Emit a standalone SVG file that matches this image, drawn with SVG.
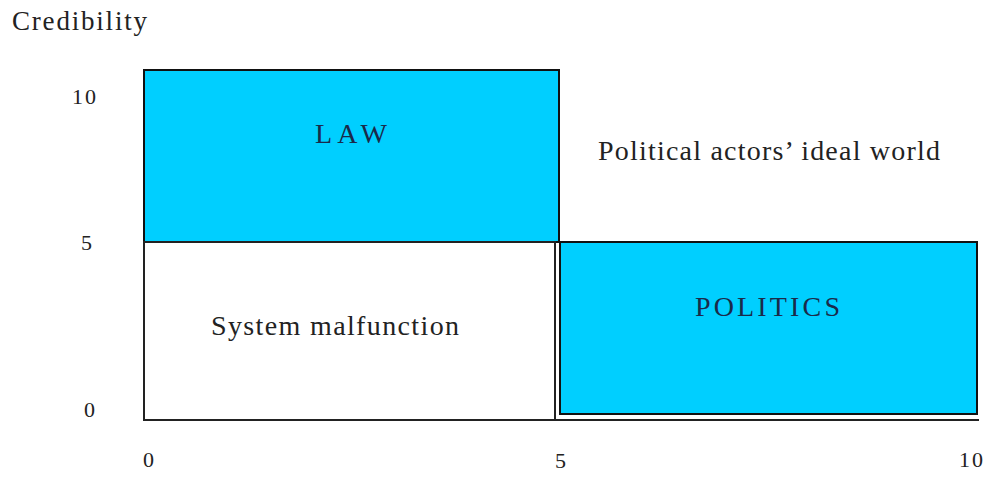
<svg xmlns="http://www.w3.org/2000/svg" width="993" height="483" viewBox="0 0 993 483">
<style>
text{font-family:"Liberation Serif","Times New Roman",serif;fill:#222;}
.lbl{font-size:28px;}
.box{fill:#00CFFF;stroke:#111;stroke-width:2;}
.ax{font-size:22px;}
.ln{stroke:#222;stroke-width:2;fill:none;}
</style>
<rect width="993" height="483" fill="#fff"/>
<text x="12" y="30" style="font-size:27px" textLength="135">Credibility</text>
<g id="axes">
<text x="72" y="104" class="ax" textLength="24">10</text>
<text x="81" y="250" class="ax">5</text>
<text x="84" y="417" class="ax">0</text>
<text x="143" y="467" class="ax">0</text>
<text x="555" y="468" class="ax">5</text>
<text x="959" y="467" class="ax" textLength="24">10</text>
</g>
<g id="law">
<rect class="box" x="144" y="70" width="415" height="172"/>
<text x="315" y="143" class="lbl" style="fill:#1a2a4a" textLength="72">LAW</text>
</g>
<g id="malfunction">
<rect x="144" y="242" width="411" height="178" fill="#fff" class="ln"/>
<text x="211" y="335" class="lbl" textLength="248">System malfunction</text>
</g>
<g id="ideal">
<text x="598" y="160" class="lbl" textLength="342">Political actors’ ideal world</text>
</g>
<g id="politics">
<rect class="box" x="560" y="242" width="417" height="172"/>
<text x="695" y="316" class="lbl" style="fill:#1a2a4a" textLength="145">POLITICS</text>
</g>
<g id="connectors">
<line class="ln" x1="144" y1="420" x2="979" y2="420"/>
<line class="ln" x1="555" y1="242" x2="555" y2="421"/>
</g>
</svg>
